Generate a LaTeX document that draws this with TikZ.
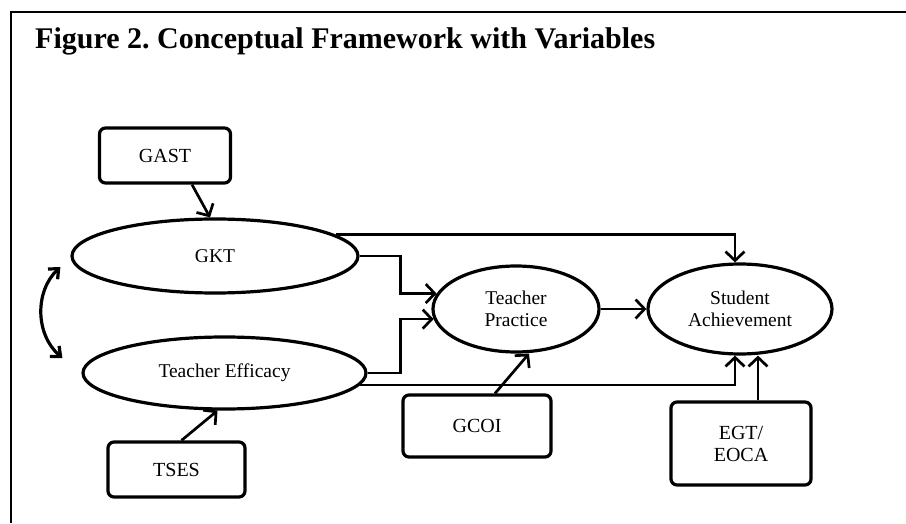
\documentclass[tikz,border=0pt]{standalone}
\usepackage{fontspec}
\setmainfont{Liberation Serif}
\frenchspacing
\usetikzlibrary{shapes.geometric,arrows.meta,calc}
\tikzset{
  shapeline/.style={line width=3.2pt},
  oval/.style={shapeline,draw,ellipse,inner sep=0pt,align=center,font=\fontsize{19.5}{22}\selectfont},
  varbox/.style={shapeline,draw,rectangle,rounded corners=6pt,inner sep=0pt,align=center,font=\fontsize{20}{22}\selectfont},
  arr/.style={line width=2.7pt,-{Straight Barb[length=9pt,width=19pt,line width=2.7pt]}},
  dblarr/.style={line width=3.2pt,{Straight Barb[length=8pt,width=14pt,line width=3.2pt]}-{Straight Barb[length=8pt,width=14pt,line width=3.2pt]}},
  frameline/.style={line width=2pt}
}
\begin{document}
\begin{tikzpicture}[x=1pt,y=1pt]
\useasboundingbox (0,0) rectangle (906,523);
% frame
\coordinate (ftl) at (11,511);
\coordinate (ftr) at (906,511);
\coordinate (fbl) at (11,0);
\draw[frameline] (ftr) -- (ftl) -- (fbl);
% title
\node[anchor=base west,inner sep=0pt,font=\fontsize{30}{34}\selectfont\bfseries] (title) at (35,474)
  {Figure 2. Conceptual Framework with Variables};
% nodes
\node[varbox,minimum width=131pt,minimum height=55pt] (gast) at (165,367.5) {GAST};
\node[oval,minimum width=286pt,minimum height=74pt] (gkt) at (215,267) {GKT};
\node[oval,minimum width=283pt,minimum height=72pt] (te) at (224.5,150) {Teacher Efficacy};
\node[varbox,minimum width=137pt,minimum height=55pt] (tses) at (176.5,53.5) {TSES};
\node[oval,minimum width=166pt,minimum height=86pt] (tp) at (516,214) {Teacher\\Practice};
\node[oval,minimum width=184pt,minimum height=90pt] (sa) at (740,214) {Student\\Achievement};
\node[varbox,minimum width=148pt,minimum height=62pt] (gcoi) at (477,97) {GCOI};
\node[varbox,minimum width=140pt,minimum height=83pt] (egt) at (741,79.5) {EGT/\\EOCA};
% connectors
\draw[arr] ([xshift=27pt]gast.south) -- ([xshift=-5pt]gkt.north);
\draw[arr] ([xshift=5pt]tses.north) -- ([xshift=-7pt]te.south);
\draw[arr] ([xshift=18pt]gcoi.north) -- ([xshift=13pt]tp.south);
\draw[arr] ([xshift=17pt]egt.north) -- ([xshift=17pt]egt.north |- sa.south);
\draw[arr] (gkt.10) -| ([xshift=-5pt]sa.north);
\draw[arr] (gkt.east) -- ++(41,0) |- (tp.169);
\draw[arr] (te.east) -- ++(33,0) |- (tp.187);
\draw[arr] (te.-5) -| ([xshift=-5pt]sa.south);
\draw[arr] (tp.east) -- (sa.west);
% correlation
\coordinate (c1) at ([shift={(-10pt,-11pt)}]gkt.west);
\coordinate (c2) at ([shift={(-19pt,15pt)}]te.west);
\draw[dblarr] (c1) to[bend right=48] (c2);
\end{tikzpicture}
\end{document}
